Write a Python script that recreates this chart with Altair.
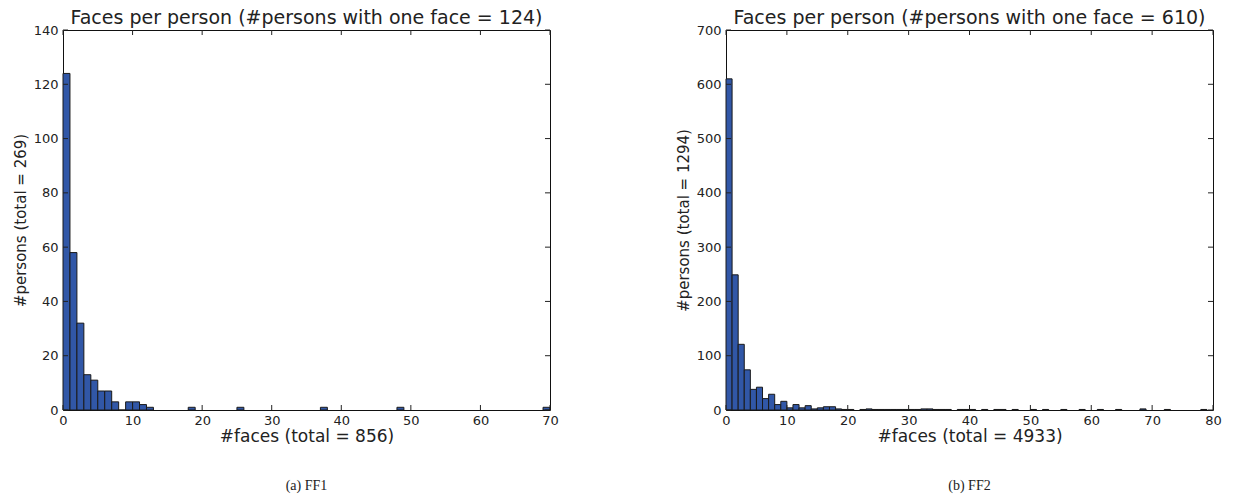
import altair as alt
import pandas as pd

# ---------------- data ----------------
# FF1: histogram bins (start of unit-wide bin) and #persons
ff1_bin_start = [0, 1, 2, 3, 4, 5, 6, 7, 8, 9, 10, 11, 12, 18, 25, 37, 48, 69]
ff1_counts    = [124, 58, 32, 13, 11, 7, 7, 3, 0, 3, 3, 2, 1, 1, 1, 1, 1, 1]

# FF2
ff2_bin_start = [0, 1, 2, 3, 4, 5, 6, 7, 8, 9, 10, 11, 12, 13, 14, 15, 16, 17, 18,
                 19, 20, 22, 23, 24, 25, 26, 27, 28, 29, 30, 31, 32, 33, 34, 35, 36,
                 38, 39, 40, 42, 44, 45, 47, 50, 52, 55, 58, 61, 64, 68, 72, 78]
ff2_counts    = [610, 249, 121, 74, 38, 42, 21, 29, 10, 16, 4, 10, 4, 8, 2, 4, 6, 6, 2,
                 1, 1, 1, 2, 1, 1, 1, 1, 1, 1, 1, 1, 2, 2, 1, 1, 1,
                 1, 1, 1, 1, 1, 1, 1, 1, 1, 1, 1, 1, 1, 2, 1, 1]

ff1_xticks = [0, 10, 20, 30, 40, 50, 60, 70]
ff1_yticks = [0, 20, 40, 60, 80, 100, 120, 140]
ff2_xticks = [0, 10, 20, 30, 40, 50, 60, 70, 80]
ff2_yticks = [0, 100, 200, 300, 400, 500, 600, 700]

W, H = 487, 380
FONT = "DejaVu Sans"
BAR = "#3157a7"
INK = "#222222"


def panel(bins, counts, xmax, ymax, xticks, yticks, title, xtitle, ytitle, caption):
    df = pd.DataFrame({"start": bins, "count": counts})
    df["end"] = df["start"] + 1
    df["zero"] = 0
    xs = alt.Scale(domain=[0, xmax], nice=False, zero=True)
    ys = alt.Scale(domain=[0, ymax], nice=False, zero=True)

    bars = alt.Chart(df).mark_bar(
        color=BAR, stroke="#1a1a1a", strokeWidth=1
    ).encode(
        x=alt.X("start:Q", scale=xs,
                axis=alt.Axis(values=xticks, title=xtitle, grid=False, ticks=False,
                              domain=False, labelFont=FONT, labelFontSize=13,
                              labelColor=INK, labelPadding=4, titleFont=FONT,
                              titleFontSize=17, titleFontWeight="normal",
                              titleColor=INK, titlePadding=1, labelFlush=False)),
        x2="end:Q",
        y=alt.Y("count:Q", scale=ys,
                axis=alt.Axis(values=yticks, title=ytitle, grid=False, ticks=False,
                              domain=False, labelFont=FONT, labelFontSize=13,
                              labelColor=INK, labelPadding=5, titleFont=FONT,
                              titleFontSize=15, titleFontWeight="normal",
                              titleColor=INK, titlePadding=5, labelFlush=False)),
        y2="zero:Q",
    )

    xt = pd.DataFrame({"v": xticks})
    yt = pd.DataFrame({"v": yticks})
    tick_bottom = alt.Chart(xt).mark_rule(color=INK, strokeWidth=1).encode(
        x=alt.X("v:Q", scale=xs), y=alt.value(H), y2=alt.value(H - 5))
    tick_top = alt.Chart(xt).mark_rule(color=INK, strokeWidth=1).encode(
        x=alt.X("v:Q", scale=xs), y=alt.value(0), y2=alt.value(5))
    tick_left = alt.Chart(yt).mark_rule(color=INK, strokeWidth=1).encode(
        y=alt.Y("v:Q", scale=ys), x=alt.value(0), x2=alt.value(5))
    tick_right = alt.Chart(yt).mark_rule(color=INK, strokeWidth=1).encode(
        y=alt.Y("v:Q", scale=ys), x=alt.value(W), x2=alt.value(W - 5))

    cap = alt.Chart(pd.DataFrame({"t": [caption]})).mark_text(
        font="Liberation Serif", fontSize=14, color=INK, baseline="middle",
        align="center"
    ).encode(text="t:N", x=alt.value(W / 2), y=alt.value(H + 76))

    return alt.layer(bars, tick_bottom, tick_top, tick_left, tick_right, cap).properties(
        width=W, height=H,
        title=alt.TitleParams(title, font=FONT, fontSize=19, fontWeight="normal",
                              color=INK, anchor="middle", frame="group", offset=-4),
    )


left = panel(ff1_bin_start, ff1_counts, 70, 140, ff1_xticks, ff1_yticks,
             "Faces per person (#persons with one face = 124)",
             "#faces (total = 856)", "#persons (total = 269)", "(a) FF1")
right = panel(ff2_bin_start, ff2_counts, 80, 700, ff2_xticks, ff2_yticks,
              "Faces per person (#persons with one face = 610)",
              "#faces (total = 4933)", "#persons (total = 1294)", "(b) FF2")

chart = alt.hconcat(left, right, spacing=116).configure(
    background="white", padding={"left": 4, "top": 0, "right": 0, "bottom": 0}
).configure_view(stroke="#111111", strokeWidth=1)

chart.save("out.html", embed_options={"renderer": "svg", "actions": False})
